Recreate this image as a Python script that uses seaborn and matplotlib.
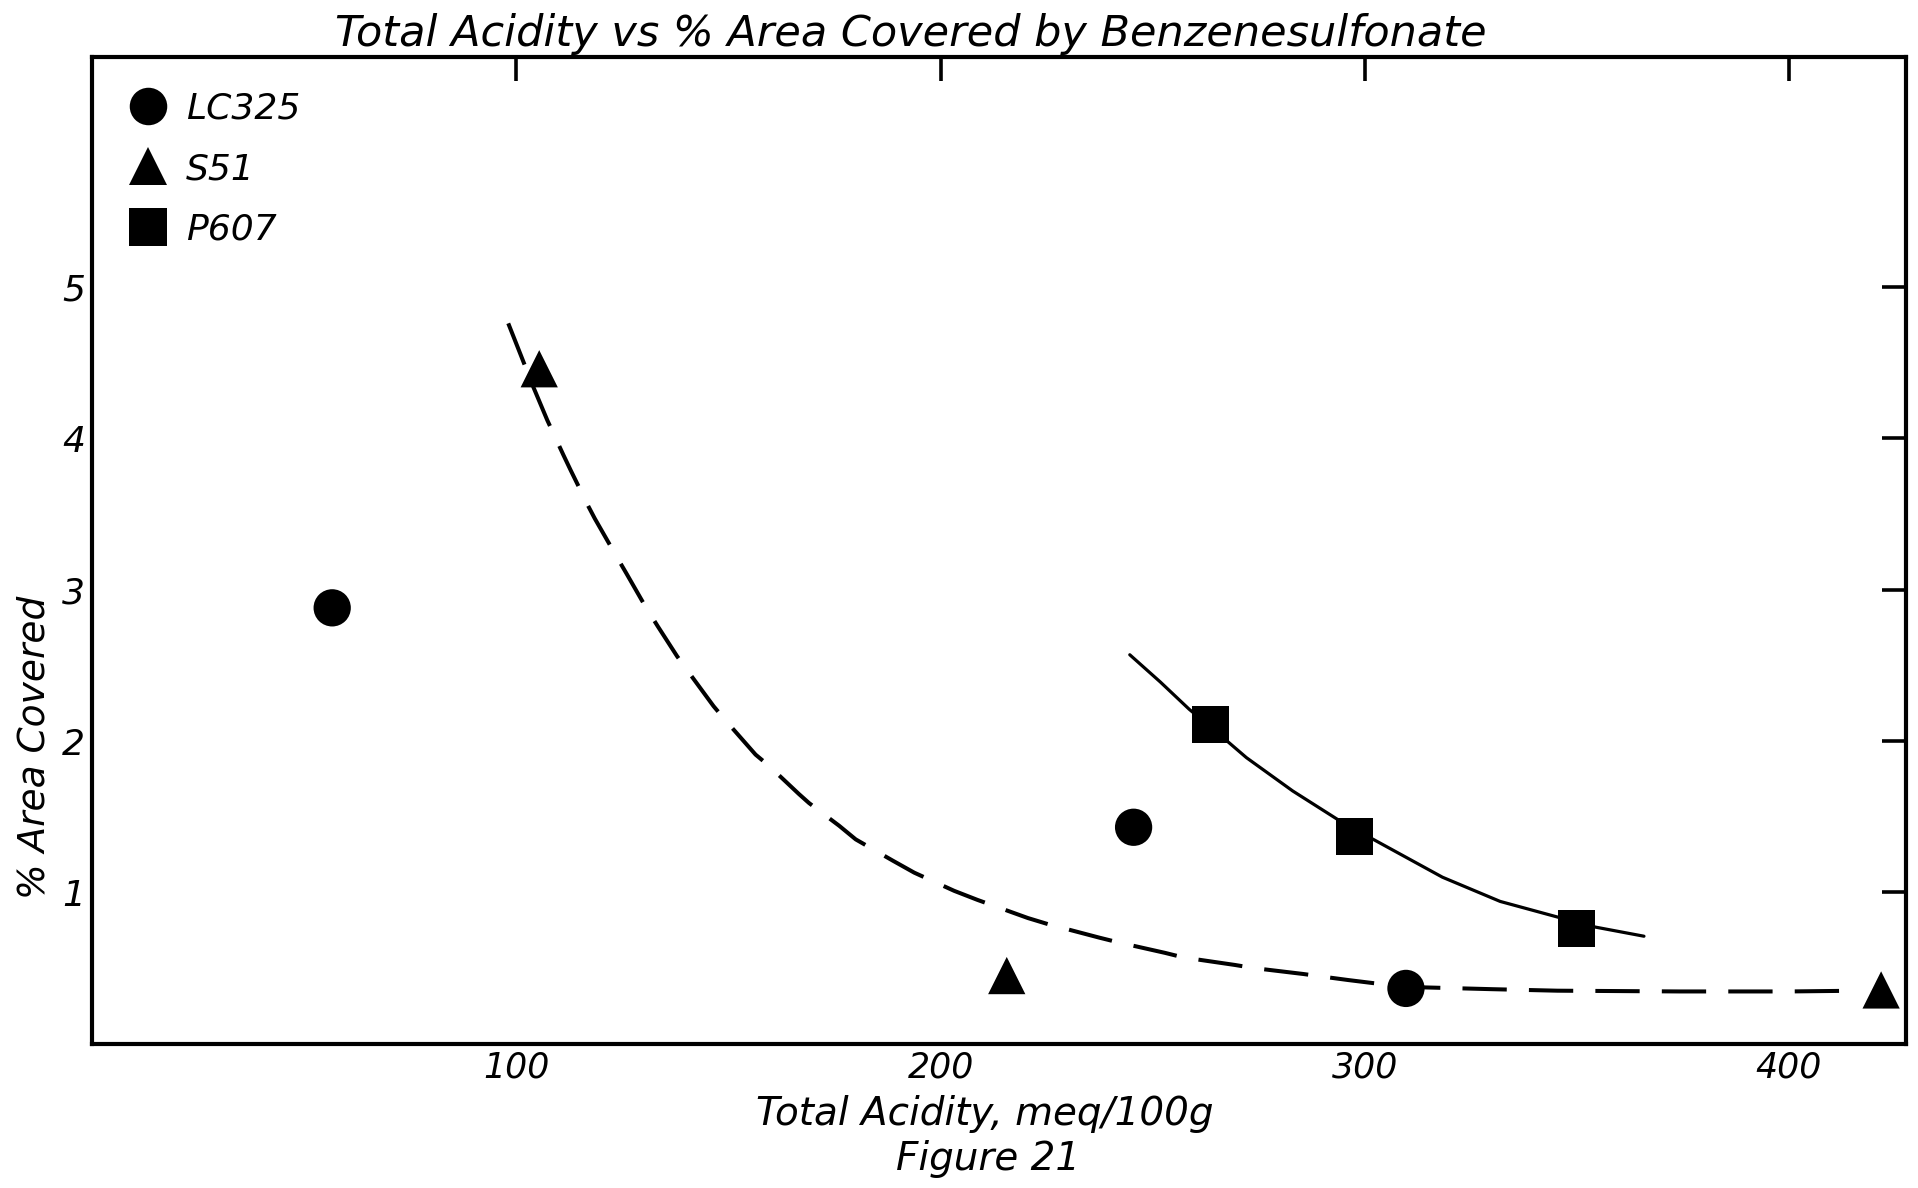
import numpy as np
import pandas as pd
import matplotlib
matplotlib.use("Agg")
import matplotlib.pyplot as plt
import seaborn as sns

# Measured samples: total acidity (meq/100g) and % area covered
lc325_acidity = [56.6, 245.5, 309.7]
lc325_area = [2.88, 1.43, 0.365]

s51_acidity = [105.4, 215.6, 421.7]
s51_area = [4.46, 0.45, 0.355]

p607_acidity = [263.6, 297.5, 349.9]
p607_area = [2.11, 1.37, 0.76]

# Hand-fitted trend curves
dashed_acidity = [98.1, 101.2, 104.0, 107.3, 111.1, 112.8, 117.0, 118.5, 123.3,
                  126.0, 130.4, 133.3, 137.9, 141.0, 146.5, 149.5, 156.4, 159.4,
                  166.6, 169.0, 176.1, 180.0, 188.7, 193.8, 203.2, 208.7, 220.6,
                  225.3, 237.5, 241.8, 252.9, 257.2, 269.4, 273.7, 285.6, 289.5,
                  296.2, 302.0, 309.7, 330.0, 345.4, 374.2, 400.0, 416.5]
dashed_area = [4.76, 4.54, 4.34, 4.12, 3.89, 3.79, 3.55, 3.47, 3.235,
               3.105, 2.89, 2.76, 2.56, 2.44, 2.23, 2.13, 1.91, 1.84,
               1.65, 1.59, 1.44, 1.35, 1.21, 1.13, 1.01, 0.95, 0.83,
               0.79, 0.70, 0.67, 0.60, 0.57, 0.52, 0.50, 0.46, 0.445,
               0.42, 0.40, 0.375, 0.36, 0.35, 0.345, 0.345, 0.35]

solid_acidity = [244.6, 251.8, 258.6, 266.7, 272.1, 283.0, 294.8, 302.0,
                 318.3, 331.9, 346.3, 354.4, 365.8]
solid_area = [2.57, 2.39, 2.21, 2.02, 1.89, 1.67, 1.46, 1.35,
              1.10, 0.94, 0.83, 0.77, 0.71]

sample_names = ["LC325", "S51", "P607"]
x_ticks = [100, 200, 300, 400]
y_ticks = [1, 2, 3, 4, 5]

points = pd.DataFrame({
    "acidity": lc325_acidity + s51_acidity + p607_acidity,
    "area": lc325_area + s51_area + p607_area,
    "sample": [sample_names[0]] * 3 + [sample_names[1]] * 3 + [sample_names[2]] * 3,
})

sns.set_theme(style="white")
plt.rcParams["font.family"] = ["DejaVu Sans"]
plt.rcParams["font.style"] = "italic"
plt.rcParams["text.color"] = "black"
plt.rcParams["axes.labelcolor"] = "black"
plt.rcParams["xtick.color"] = "black"
plt.rcParams["ytick.color"] = "black"

fig = plt.figure(figsize=(19.18, 11.88), dpi=100)
ax = fig.add_axes([0.048, 0.1215, 0.9456, 0.8305])

sns.lineplot(x=dashed_acidity, y=dashed_area, sort=False, estimator=None,
             color="black", linewidth=2.9, linestyle=(0, (11, 5.5)), ax=ax)
sns.lineplot(x=solid_acidity, y=solid_area, sort=False, estimator=None,
             color="black", linewidth=2.3, ax=ax)

markers = {"LC325": "o", "S51": "^", "P607": "s"}
sns.scatterplot(data=points, x="acidity", y="area", style="sample",
                markers=markers, color="black", s=720, edgecolor="black",
                linewidth=0, ax=ax, zorder=5, clip_on=False)

handles, labels = ax.get_legend_handles_labels()
keep = [(h, l) for h, l in zip(handles, labels) if l in sample_names]
for h, _ in keep:
    h.set_markersize(27)
    h.set_color("black")
    h.set_markeredgewidth(0)
ax.legend([h for h, _ in keep], [l for _, l in keep], loc="upper left",
          bbox_to_anchor=(-0.004, 1.0), frameon=False, fontsize=26,
          labelspacing=0.74, handletextpad=0.25, handlelength=1.6,
          borderaxespad=0.55)

ax.set_xlim(0, 427.5)
ax.set_ylim(0, 6.52)
ax.set_xticks(x_ticks)
ax.set_yticks(y_ticks)
ax.set_xticklabels([str(t) for t in x_ticks], fontsize=25, style="italic")
ax.set_yticklabels([str(t) for t in y_ticks], fontsize=26, style="italic")
ax.tick_params(axis="both", which="major", direction="in", length=17,
               width=2.6, color="black", top=True, right=True,
               labeltop=False, labelright=False, pad=5)

for spine in ax.spines.values():
    spine.set_visible(True)
    spine.set_color("black")
    spine.set_linewidth(3.0)

ax.set_xlabel("Total Acidity, meq/100g", fontsize=28, style="italic")
ax.xaxis.set_label_coords(0.492, -0.052)
ax.set_ylabel("% Area Covered", fontsize=27, style="italic")
ax.yaxis.set_label_coords(-0.022, 0.30)

fig.text(0.475, 0.971, "Total Acidity vs % Area Covered by Benzenesulfonate",
         ha="center", va="center", fontsize=31, style="italic")
fig.text(0.515, 0.024, "Figure 21", ha="center", va="center",
         fontsize=28, style="italic")

fig.savefig("out.png", dpi=100, facecolor="white")
